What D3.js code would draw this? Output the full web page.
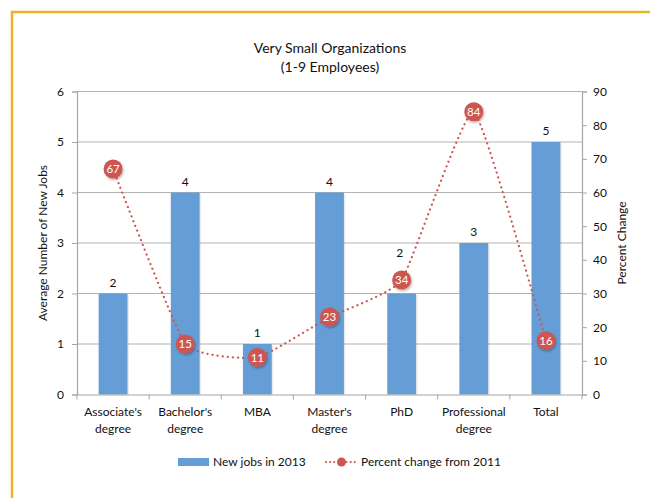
<!DOCTYPE html>
<html><head><meta charset="utf-8">
<script src="https://cdn.jsdelivr.net/npm/d3@7"></script>
<style>body{margin:0;background:#fff}svg{display:block}text{font-family:Lato,"Open Sans",sans-serif;fill:#111}</style>
</head><body><svg id="c" width="650" height="498"></svg>
<script>
const categories = [["Associate's","degree"],["Bachelor's","degree"],["MBA"],["Master's","degree"],["PhD"],["Professional","degree"],["Total"]];
const newJobs = [2,4,1,4,2,3,5];
const pctChange = [67,15,11,23,34,84,16];
const leftTicks = [0,1,2,3,4,5,6];
const rightTicks = [0,10,20,30,40,50,60,70,80,90];

const svg = d3.select("#c");
const defs = svg.append("defs");
const f = defs.append("filter").attr("id","sh").attr("x","-50%").attr("y","-50%").attr("width","200%").attr("height","200%");
f.append("feDropShadow").attr("dx",1).attr("dy",1.5).attr("stdDeviation",1).attr("flood-color","#000").attr("flood-opacity",0.3);

// border
svg.append("path").attr("d","M12,498 L12,12 L650,12").attr("fill","none").attr("stroke","#E9B524").attr("stroke-width",2.5);

const L=77, R=582, T=91.5, B=394.5;
const x = d3.scaleBand().domain(d3.range(categories.length)).range([L,R]);
const yL = d3.scaleLinear().domain([0,6]).range([B,T]);
const yR = d3.scaleLinear().domain([0,90]).range([B,T]);
const cx = i => x(i)+x.bandwidth()/2;

// title
svg.append("text").attr("x",330).attr("y",53).attr("text-anchor","middle").attr("font-size",14).text("Very Small Organizations");
svg.append("text").attr("x",330).attr("y",72).attr("text-anchor","middle").attr("font-size",14).text("(1-9 Employees)");

// gridlines
svg.append("g").selectAll("line").data(leftTicks.slice(1)).join("line")
  .attr("x1",L).attr("x2",R).attr("y1",d=>yL(d)).attr("y2",d=>yL(d))
  .attr("stroke","#b3b3b3").attr("stroke-width",1);

// bars
const bw = x.bandwidth()*0.4;
svg.append("g").selectAll("rect.sh").data(newJobs).join("rect")
  .attr("x",(d,i)=>cx(i)-bw/2+1.5).attr("y",d=>yL(d)+1.5).attr("width",bw).attr("height",d=>B-yL(d)-1.5)
  .attr("fill","#000").attr("opacity",0.08);
svg.append("g").selectAll("rect.b").data(newJobs).join("rect")
  .attr("x",(d,i)=>cx(i)-bw/2).attr("y",d=>yL(d)).attr("width",bw).attr("height",d=>B-yL(d))
  .attr("fill","#659ED6");
// bar labels; move above marker when they collide
svg.append("g").selectAll("text").data(newJobs).join("text")
  .attr("x",(d,i)=>{const ly=yL(d)-11, my=yR(pctChange[i]); return Math.abs(ly-my)<16 ? cx(i)-2 : cx(i);})
  .attr("y",(d,i)=>{const ly=yL(d)-11, my=yR(pctChange[i]); return (Math.abs(ly-my)<16 ? my-27 : ly)+4;})
  .attr("text-anchor","middle").attr("font-size",12).text(d=>d);

// axes
const axL = svg.append("g").attr("transform",`translate(${L},0)`).call(d3.axisLeft(yL).tickValues(leftTicks).tickFormat(d3.format("d")).tickSize(5).tickPadding(8));
const axR = svg.append("g").attr("transform",`translate(${R},0)`).call(d3.axisRight(yR).tickValues(rightTicks).tickFormat(d3.format("d")).tickSize(5).tickPadding(6));
const axB = svg.append("g").attr("transform",`translate(0,${B})`).call(d3.axisBottom(x).tickSize(0).tickFormat(""));
[axL,axR,axB].forEach(a=>{a.select(".domain").attr("stroke","#a6a6a6").attr("stroke-width",1.2);a.selectAll(".tick line").attr("stroke","#a6a6a6");a.selectAll("text").attr("font-size",12).attr("fill","#111").style("font-family","Lato,sans-serif");});
// bottom ticks at boundaries
svg.append("g").selectAll("line").data(d3.range(categories.length+1)).join("line")
  .attr("x1",d=>L+d*x.step()).attr("x2",d=>L+d*x.step()).attr("y1",B).attr("y2",B+5).attr("stroke","#a6a6a6");
// category labels
const cl = svg.append("g").selectAll("text").data(categories).join("text")
  .attr("x",(d,i)=>cx(i)).attr("y",416).attr("text-anchor","middle").attr("font-size",12);
cl.selectAll("tspan").data(d=>d).join("tspan").attr("x",function(){return this.parentNode.getAttribute("x");}).attr("dy",(d,j)=>j?17:0).text(d=>d);

// axis titles
svg.append("text").attr("transform",`translate(47,${(T+B)/2}) rotate(-90)`).attr("text-anchor","middle").attr("font-size",12).text("Average Number of New Jobs");
svg.append("text").attr("transform",`translate(626,${(T+B)/2}) rotate(-90)`).attr("text-anchor","middle").attr("font-size",12).text("Percent Change");

// line
const red="#CD5652";
const line = d3.line().x((d,i)=>cx(i)).y(d=>yR(d)).curve(d3.curveCardinal.tension(0.6));
svg.append("path").datum(pctChange).attr("d",line).attr("fill","none").attr("stroke",red).attr("stroke-width",2.2)
  .attr("stroke-dasharray","0.1,5").attr("stroke-linecap","round");
const pts = svg.append("g").selectAll("g").data(pctChange).join("g")
  .attr("transform",(d,i)=>`translate(${cx(i)},${yR(d)})`);
pts.append("circle").attr("r",9.5).attr("fill",red).attr("filter","url(#sh)");
pts.append("text").attr("text-anchor","middle").attr("dy","0.36em").attr("font-size",11.5).style("fill","#fff").text(d=>d);

// legend
svg.append("rect").attr("x",178).attr("y",458).attr("width",31).attr("height",8).attr("fill","#659ED6");
svg.append("text").attr("x",213).attr("y",466).attr("font-size",12).text("New jobs in 2013");
svg.append("line").attr("x1",326).attr("x2",357).attr("y1",462).attr("y2",462).attr("stroke",red).attr("stroke-width",2).attr("stroke-dasharray","0.1,4").attr("stroke-linecap","round");
svg.append("circle").attr("cx",341.5).attr("cy",462).attr("r",4.5).attr("fill",red);
svg.append("text").attr("x",361).attr("y",466).attr("font-size",12).text("Percent change from 2011");
</script></body></html>
